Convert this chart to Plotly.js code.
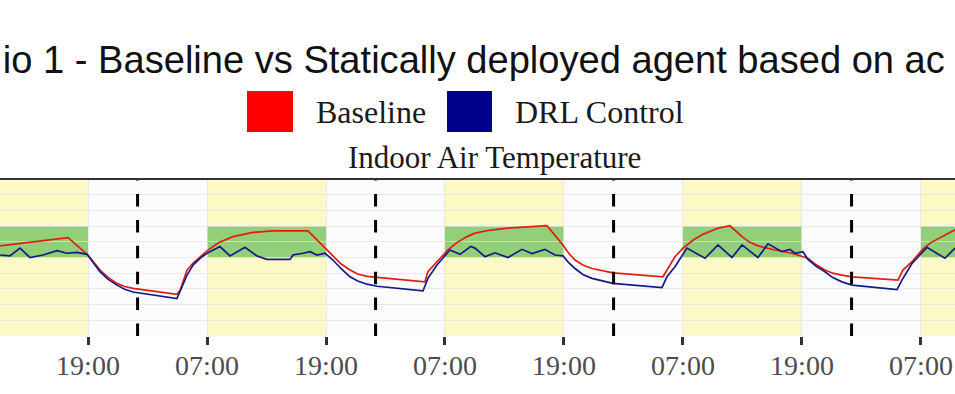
<!DOCTYPE html>
<html>
<head>
<meta charset="utf-8">
<script src="https://cdn.plot.ly/plotly-3.0.1.min.js"></script>
<style>
html,body{margin:0;padding:0;background:#fff;overflow:hidden;}
#chart{width:955px;height:394px;}
</style>
</head>
<body>
<div id="chart"></div>
<script>
// Hours counted from 00:00 of the first shown day
const baselineHours = [10.13,16.98,19.0,19.6,20.21,21.0,21.92,22.7,23.54,27.97,28.28,28.98,29.6,30.29,31.0,32.2,33.62,35.64,37.66,41.18,42.9,43.7,44.5,45.42,46.2,47.13,48.14,52.98,53.28,54.19,55.3,56.2,57.22,58.02,59.6,61.35,64.78,65.28,66.9,67.5,68.11,68.9,69.82,71.94,76.98,77.49,78.19,79.0,80.0,80.91,82.53,83.74,84.95,85.7,86.56,88.28,89.99,91.6,92.4,93.32,94.1,95.03,96.04,100.68,101.18,102.09,103.1,104.0,105.11,106.43];
const baselineTemp  = [20.74,21.27,20.16,19.65,19.2,18.75,18.35,18.15,18.03,17.66,17.9,19.2,19.65,20.03,20.42,20.95,21.33,21.6,21.7,21.7,20.6,20.05,19.6,19.2,18.95,18.8,18.73,18.45,19.1,19.73,20.48,20.95,21.33,21.55,21.75,21.87,22.02,22.03,20.8,20.25,19.84,19.52,19.3,19.02,18.77,19.3,20.05,20.6,21.1,21.45,21.87,22.02,21.33,20.98,20.74,20.48,20.27,19.95,19.55,19.2,19.0,18.88,18.77,18.56,19.2,19.73,20.48,20.95,21.33,21.76];

const drlHours = [10.13,11.13,12.14,13.15,14.46,15.87,16.88,17.89,18.9,19.6,20.21,21.0,21.92,22.7,23.54,27.97,28.48,29.0,29.59,30.3,31.0,32.31,33.32,34.83,36.04,37.05,39.37,39.67,40.68,41.39,42.09,42.9,43.7,44.5,45.42,46.2,47.13,48.14,52.78,53.28,54.19,55.5,56.51,57.6,58.02,59.03,60.04,61.35,62.76,63.77,65.08,66.09,66.9,67.5,68.11,68.9,69.82,71.94,76.88,77.38,78.19,79.4,81.22,82.53,83.94,84.95,86.56,87.57,88.98,89.79,90.29,91.1,91.6,92.4,93.32,94.1,95.03,96.04,100.58,101.08,102.09,103.6,105.42,106.43];
const drlTemp  = [20.16,20.1,20.6,20.0,20.16,20.44,20.27,20.33,20.2,19.6,19.09,18.62,18.24,17.98,17.8,17.38,18.13,18.9,19.52,19.95,20.27,20.7,20.1,20.65,20.1,19.88,19.88,20.16,20.27,20.37,20.16,20.27,19.84,19.3,18.77,18.5,18.3,18.17,17.87,18.67,19.52,20.48,20.2,20.7,20.6,20.05,20.3,20.0,20.52,20.25,20.52,20.16,20.1,19.65,19.3,18.92,18.67,18.35,18.09,18.77,19.41,20.6,19.95,20.8,20.0,20.8,20.0,20.87,20.37,20.52,20.27,20.37,19.88,19.45,19.09,18.72,18.45,18.24,17.96,18.56,19.62,20.65,19.95,20.6];

const occupiedStart = [7,31,55,79,103];   // 07:00 each day
const occupiedLength = 12;                // until 19:00
const midnights = [24,48,72,96];
const comfortBand = [20,22];
const viewHours = [10.126,106.43];

const seriesNames = ['Baseline','DRL Control'];
const seriesColors = ['#ff0000','#00008b'];

function toDate(h){
  const d = new Date(Date.UTC(2021,0,4) + h*3600000);
  return d.toISOString().slice(0,19).replace('T',' ');
}

const traces = [
  {x: baselineHours.map(toDate), y: baselineTemp, name: seriesNames[0], mode:'lines',
   line:{color:'#e01e10', width:1.7}},
  {x: drlHours.map(toDate), y: drlTemp, name: seriesNames[1], mode:'lines',
   line:{color:'#141a86', width:1.7}}
];

const shapes = [];
occupiedStart.forEach(h=>{
  shapes.push({type:'rect', xref:'x', yref:'paper', x0:toDate(h), x1:toDate(h+occupiedLength), y0:0, y1:1,
    fillcolor:'#fdf9c6', line:{width:0}, layer:'below'});
});
occupiedStart.forEach(h=>{
  shapes.push({type:'rect', xref:'x', yref:'y', x0:toDate(h), x1:toDate(h+occupiedLength), y0:comfortBand[0], y1:comfortBand[1],
    fillcolor:'#93cf78', line:{width:0}, layer:'below'});
});
midnights.forEach(h=>{
  shapes.push({type:'line', xref:'x', yref:'paper', x0:toDate(h), x1:toDate(h), y0:0, y1:1,
    line:{color:'#000', width:3, dash:'12.5px,13.4px'}, layer:'above'});
});
// top border of panel
shapes.push({type:'line', xref:'paper', yref:'paper', x0:0, x1:1, y0:1, y1:1, line:{color:'#333', width:2}});

// legend keys (pixel positions converted to paper units)
const W = 955, plotTop = 179, plotBottom = 336, H = plotBottom - plotTop;
const px = v => v / W;
const py = v => (plotBottom - v) / H;
shapes.push({type:'rect', xref:'paper', yref:'paper', x0:px(247), x1:px(293), y0:py(132), y1:py(91),
  fillcolor:seriesColors[0], line:{width:0}});
shapes.push({type:'rect', xref:'paper', yref:'paper', x0:px(447), x1:px(492), y0:py(132), y1:py(91),
  fillcolor:seriesColors[1], line:{width:0}});

const serif = 'Liberation Serif, Times New Roman, serif';
const annotations = [
  {text: seriesNames[0], xref:'paper', yref:'paper', x:px(314), y:py(111.5), xanchor:'left', yanchor:'middle',
   showarrow:false, font:{family:serif, size:32, color:'#1a1a1a'}},
  {text: seriesNames[1], xref:'paper', yref:'paper', x:px(513), y:py(111.5), xanchor:'left', yanchor:'middle',
   showarrow:false, font:{family:serif, size:32, color:'#1a1a1a'}},
  {text: 'Indoor Air Temperature', xref:'paper', yref:'paper', x:px(494.5), y:py(157.4), xanchor:'center', yanchor:'middle',
   showarrow:false, font:{family:serif, size:31, color:'#1a1a1a'}}
];

const layout = {
  width: 955, height: 394,
  margin: {l:0, r:0, t:plotTop, b:394-plotBottom, pad:0},
  paper_bgcolor:'#ffffff',
  plot_bgcolor:'#fbfbfb',
  showlegend:false,
  title: {text:'io 1 - Baseline vs Statically deployed agent based on ac', x:0.003, xanchor:'left', xref:'container',
          y: 1 - 59.7/394, yanchor:'middle', yref:'container',
          font:{family:'Liberation Sans, Arial, sans-serif', size:38.1, color:'#111'}},
  xaxis: {type:'date', range:[toDate(viewHours[0]), toDate(viewHours[1])],
          tick0: toDate(7), dtick: 12*3600000, tickformat:'%H:%M',
          ticks:'outside', ticklen:8, tickwidth:3, tickcolor:'#333',
          ticklabelstandoff:-4,
          showgrid:true, gridcolor:'rgba(225,225,225,0.7)', gridwidth:1,
          showline:false, zeroline:false,
          tickfont:{family:serif, size:28, color:'#4d4d4d'}},
  yaxis: {range:[15,25], tick0:15, dtick:1, showticklabels:false, ticks:'',
          showgrid:true, gridcolor:'rgba(225,225,225,0.7)', gridwidth:1.2, zeroline:false, showline:false},
  shapes: shapes,
  annotations: annotations
};

Plotly.newPlot('chart', traces, layout, {displayModeBar:false, staticPlot:true});
</script>
</body>
</html>
